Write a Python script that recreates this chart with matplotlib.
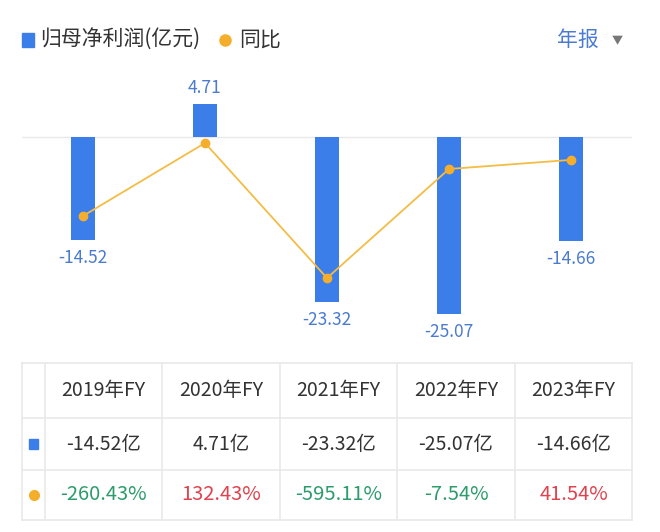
import matplotlib
matplotlib.use("Agg")
import matplotlib.pyplot as plt
from matplotlib.patches import Rectangle
from matplotlib.lines import Line2D

plt.rcParams['font.family'] = ['Noto Sans CJK SC', 'DejaVu Sans']

# ---- data ----
years = ["2019年FY", "2020年FY", "2021年FY", "2022年FY", "2023年FY"]
profit = [-14.52, 4.71, -23.32, -25.07, -14.66]          # 归母净利润(亿元)
yoy = [-260.43, 132.43, -595.11, -7.54, 41.54]            # 同比 (%)

BAR = "#3b7de9"
LABEL = "#4a7bcf"
LINE = "#f3bd45"
DOT = "#f5ae2c"
GRID = "#e9e9e9"
TXT = "#333333"
UP = "#e0434e"
DOWN = "#2d9c6c"

W, H = 660, 532
fig = plt.figure(figsize=(W / 100, H / 100), dpi=100)

# ---- chart area (pixel layout converted to figure fractions) ----
top_px, bot_px = 60, 345
ax = fig.add_axes([22 / W, 1 - bot_px / H, 610 / W, (bot_px - top_px) / H])
x = list(range(len(years)))
ax.bar(x, profit, width=0.2, color=BAR, zorder=2)
ax.axhline(0, color=GRID, lw=1, zorder=1)
ax.set_xlim(-0.5, 4.5)
ax.set_ylim(-29.46, 10.91)
ax.axis("off")

for xi, v in zip(x, profit):
    off = 11.5 if v >= 0 else -13
    ax.annotate(f"{v:.2f}", (xi, v), xytext=(0, off), textcoords="offset points",
                ha="center", va="center", color=LABEL, fontsize=12.5)

ax2 = ax.twinx()
ax2.plot(x, yoy, color=LINE, lw=1.3, marker="o", ms=6,
         mfc=DOT, mec=DOT, zorder=3)
ax2.set_ylim(-955.8, 579.7)
ax2.set_xlim(-0.5, 4.5)
ax2.axis("off")

# ---- overlay in pixel coords: legend + table ----
ov = fig.add_axes([0, 0, 1, 1], zorder=5)
ov.set_xlim(0, W)
ov.set_ylim(H, 0)
ov.axis("off")
ov.patch.set_alpha(0)

ov.add_patch(Rectangle((22, 33), 12, 14, color=BAR))
ov.text(40, 40, "归母净利润(亿元)", va="center", ha="left", fontsize=15, color=TXT)
ov.add_line(Line2D([225], [40], marker="o", ms=8, color=DOT, mec=DOT))
ov.text(239, 40, "同比", va="center", ha="left", fontsize=15, color=TXT)
ov.text(557, 40, "年报", va="center", ha="left", fontsize=15, color=LABEL)
ov.text(617, 41, "▼", va="center", ha="center", fontsize=8, color="#777777")

# table grid
row_y = [363, 418, 470, 520]
col_x = [22, 45, 162, 280, 397, 515, 632]
for yy in row_y:
    ov.plot([col_x[0], col_x[-1]], [yy, yy], color=GRID, lw=1.2)
for xx in col_x:
    ov.plot([xx, xx], [row_y[0], row_y[-1]], color=GRID, lw=1.2)

centers = [(col_x[i + 1] + col_x[i + 2]) / 2 for i in range(len(years))]
ry = [(row_y[i] + row_y[i + 1]) / 2 for i in range(3)]
for cx, yr, v, p in zip(centers, years, profit, yoy):
    ov.text(cx, ry[0], yr, ha="center", va="center", fontsize=14, color=TXT)
    ov.text(cx, ry[1], f"{v:.2f}亿", ha="center", va="center", fontsize=14, color=TXT)
    ov.text(cx, ry[2], f"{p:.2f}%", ha="center", va="center", fontsize=14.5,
            color=UP if p > 0 else DOWN)

ov.add_patch(Rectangle((29, ry[1] - 5), 9, 10, color=BAR))
ov.add_line(Line2D([33.5], [ry[2]], marker="o", ms=7, color=DOT, mec=DOT))

fig.savefig("out.png", dpi=100, facecolor="white")
